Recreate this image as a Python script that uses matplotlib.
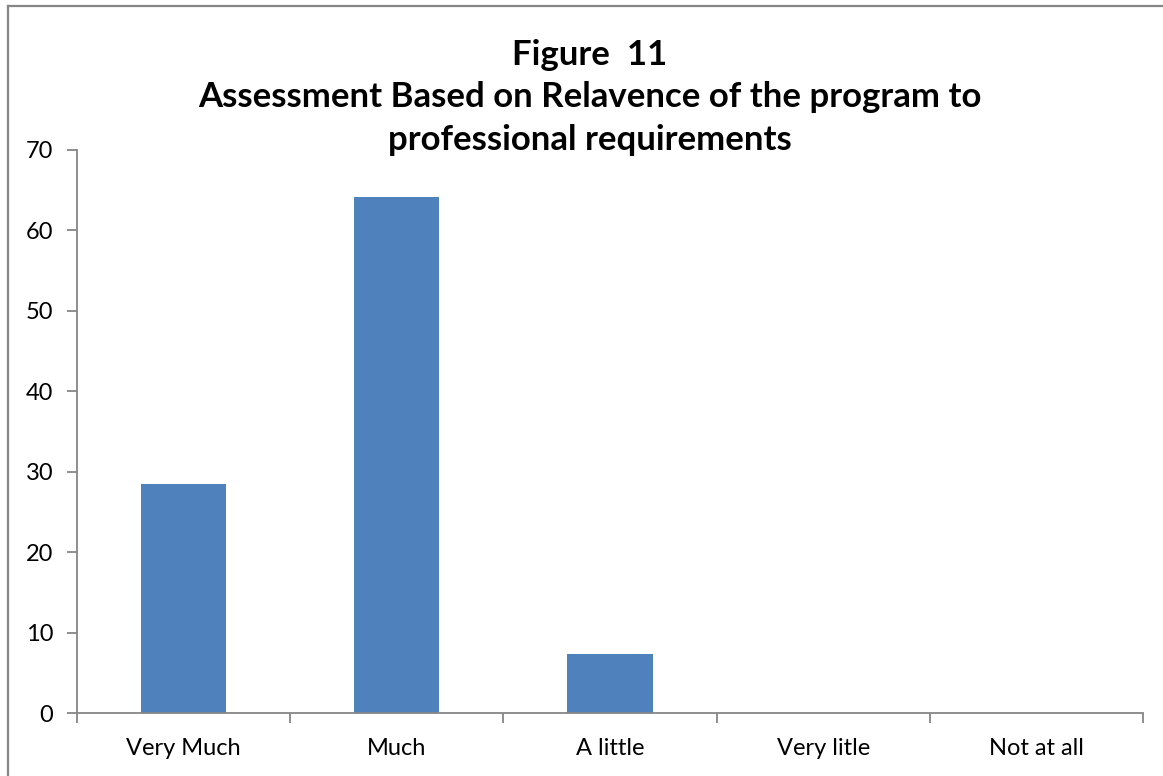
import matplotlib
matplotlib.use("Agg")
import matplotlib.pyplot as plt
from matplotlib.lines import Line2D
import numpy as np

categories = ["Very Much", "Much", "A little", "Very litle", "Not at all"]
values = [28.5, 64.2, 7.3, 0, 0]
yticks = [0, 10, 20, 30, 40, 50, 60, 70]
title_lines = ["Figure  11", "Assessment Based on Relavence of the program to", "professional requirements"]

plt.rcParams["font.family"] = ["Lato", "DejaVu Sans"]
grey = "#868686"

fig = plt.figure(figsize=(11.63, 7.76), dpi=100)
ax = fig.add_axes([77 / 1163, 1 - 713 / 776, (1143 - 77) / 1163, (713 - 150) / 776])

x = np.arange(len(categories))
ax.bar(x, values, width=0.4, color="#4F81BD")
ax.set_xlim(-0.5, len(categories) - 0.5)
ax.set_ylim(0, 70)
ax.set_yticks(yticks)
ax.set_xticks(x)
ax.set_xticklabels(categories, fontsize=17)
ax.set_xticks(np.arange(len(categories) + 1) - 0.5, minor=True)
ax.tick_params(axis="x", which="major", length=0, pad=18)
ax.tick_params(axis="x", which="minor", length=7, color=grey, width=1.3, direction="out")
ax.tick_params(axis="y", length=7, color=grey, width=1.3, labelsize=17, pad=10)

for s in ["top", "right"]:
    ax.spines[s].set_visible(False)
for s in ["left", "bottom"]:
    ax.spines[s].set_color(grey)
    ax.spines[s].set_linewidth(1.3)

for line, yc in zip(title_lines, [55, 97, 140]):
    fig.text(590 / 1163, 1 - yc / 776, line, ha="center", va="center",
             fontsize=25, fontweight="bold")

# chart-area border (only top and left visible in the crop)
fig.add_artist(Line2D([8 / 1163, 1], [1 - 6 / 776] * 2, transform=fig.transFigure, color=grey, lw=1.6))
fig.add_artist(Line2D([8 / 1163] * 2, [0, 1 - 6 / 776], transform=fig.transFigure, color=grey, lw=1.6))

fig.savefig("out.png", dpi=100)
